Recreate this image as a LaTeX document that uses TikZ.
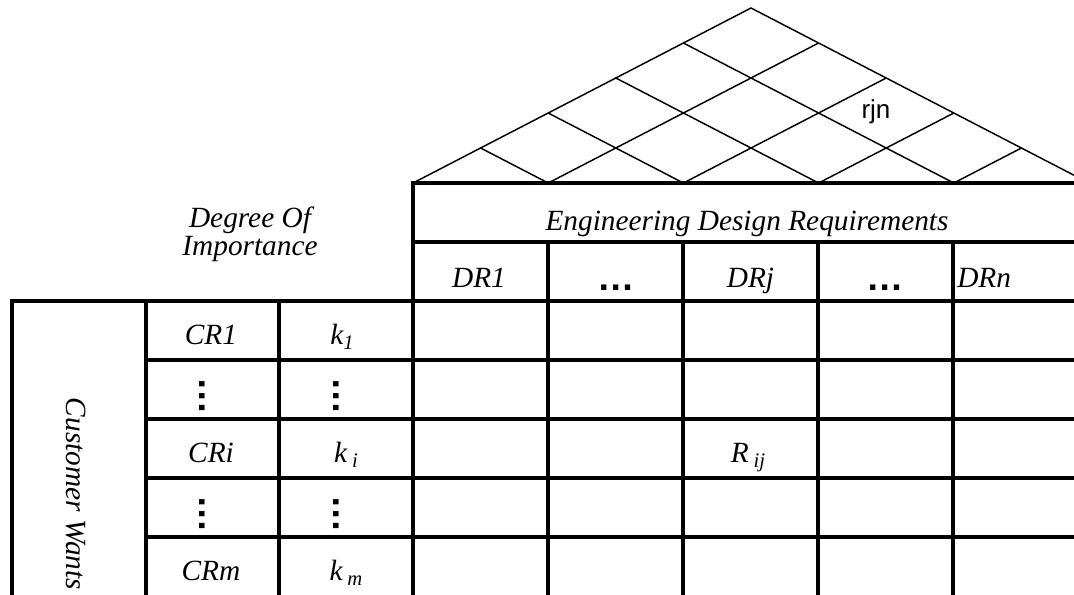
\documentclass[tikz,border=0pt]{standalone}
\usepackage{fontspec}
\setmainfont{Liberation Serif}
\newfontfamily\arialfont{Liberation Sans}
\newcommand\lowsub[1]{\raisebox{-4pt}{\fontsize{15.5}{17}\selectfont\itshape #1}}
\begin{document}
\begin{tikzpicture}[x=0.75pt,y=-0.75pt,
  gridline/.style={line width=3pt, line join=miter},
  roofline/.style={line width=1.1pt, line cap=round},
  lbl/.style={font=\fontsize{22}{26}\selectfont\itshape, inner sep=0pt, anchor=base},
  dotsh/.style={font=\arialfont\bfseries\fontsize{28}{30}\selectfont, inner sep=0pt, anchor=center},
  dotsv/.style={dotsh, rotate=-90},
  roofnum/.style={font=\arialfont\fontsize{19.5}{23}\selectfont, inner sep=0pt, anchor=base}]
\useasboundingbox (0,0) rectangle (1074,594);
\clip (0,0) rectangle (1074,594);

% roof
\coordinate (rl) at (413,183);
\coordinate (apex) at (751,8);
\coordinate (rr) at (1089,183);
\draw[roofline] (rl) -- (apex) -- (rr);
\foreach \k in {1,...,4} {
  \draw[roofline] ({413+135.2*\k},183) -- ({413+135.2*(\k+5)/2},{183-35*(5-\k)});
  \draw[roofline] ({413+135.2*\k},183) -- ({413+135.2*\k/2},{183-35*\k});
}

% table lines
\draw[gridline] (413,600) -- (413,183) -- (1080,183);
\draw[gridline] (413,242) -- (1080,242);
\draw[gridline] (12,600) -- (12,301) -- (1080,301);
\foreach \y in {360,419,478,537} \draw[gridline] (146,\y) -- (1080,\y);
\foreach \x in {146,279} \draw[gridline] (\x,301) -- (\x,600);
\foreach \x in {548,683,818,953} \draw[gridline] (\x,242) -- (\x,600);

% labels
\node[roofnum] (rjn) at (876,118) {rjn};
\node[lbl] (doi1) at (250,227) {Degree Of};
\node[lbl] (doi2) at (250,255) {Importance};
\node[lbl] (edr) at (747,230) {Engineering Design Requirements};
\node[lbl] (dr1) at (479,287) {DR1};
\node[dotsh] (dd1) at (616.5,288) {…};
\node[lbl] (drj) at (750.5,287) {DRj};
\node[dotsh] (dd2) at (885.5,288) {…};
\node[lbl, anchor=base west] (drn) at (957,287) {DRn};

\node[lbl] (cr1) at (211,344) {CR1};
\node[dotsv] (cv1) at (202,396.5) {…};
\node[lbl] (cri) at (211,462) {CRi};
\node[dotsv] (cv2) at (202,514.5) {…};
\node[lbl] (crm) at (211,580) {CRm};

\node[lbl] (k1) at (342,344) {k\lowsub{1}};
\node[dotsv] (kv1) at (336,396.5) {…};
\node[lbl] (ki) at (346,462) {k\,\lowsub{i}};
\node[dotsv] (kv2) at (336,514.5) {…};
\node[lbl] (km) at (346,580) {k\,\lowsub{m}};

\node[lbl] (rij) at (748,462) {R\,\lowsub{ij}};
\node[lbl, rotate=-90, anchor=center] (cw) at (76,494) {Customer Wants};
\end{tikzpicture}
\end{document}
